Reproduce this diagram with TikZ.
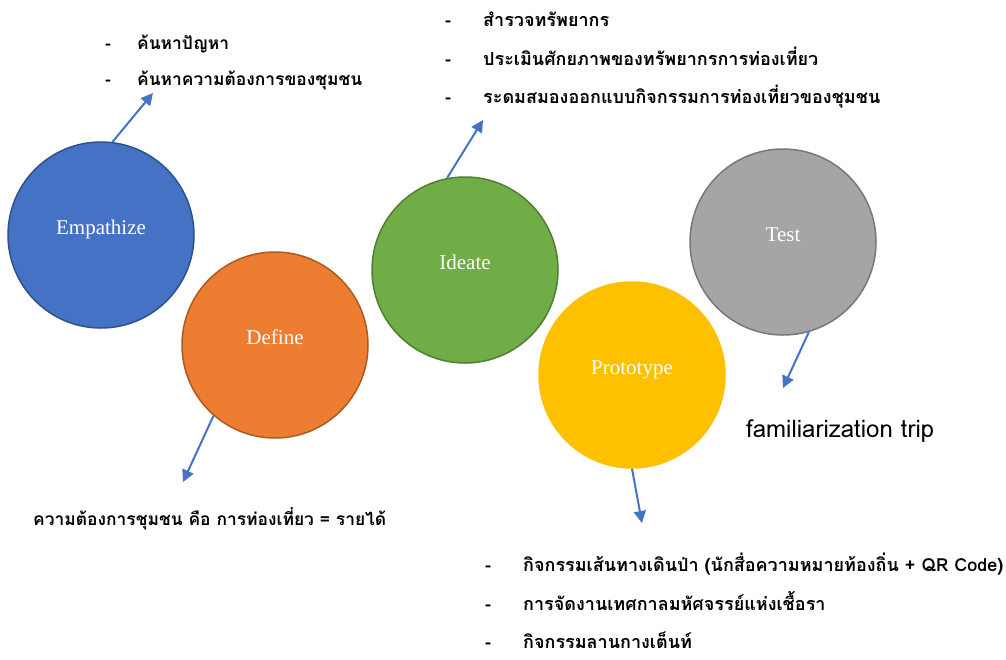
\documentclass[tikz,border=0pt]{standalone}
\usepackage{fontspec}
\setmainfont{Liberation Serif}
\newfontfamily\thaifont[Script=Thai]{Loma}
\usetikzlibrary{positioning,arrows.meta}
\definecolor{empfill}{HTML}{4472C4}
\definecolor{empedge}{HTML}{2F528F}
\definecolor{deffill}{HTML}{ED7D31}
\definecolor{defedge}{HTML}{AE5A21}
\definecolor{idefill}{HTML}{70AD47}
\definecolor{ideedge}{HTML}{507E32}
\definecolor{profill}{HTML}{FFC000}
\definecolor{tstfill}{HTML}{A5A5A5}
\definecolor{tstedge}{HTML}{787878}
\definecolor{arrowblue}{HTML}{4472C4}

\begin{document}
\begin{tikzpicture}[x=1pt,y=-1pt]

    \tikzstyle{phase}=[circle,draw,line width=1.5pt,minimum size=186pt,inner sep=0pt,text=white,text height=14pt,text depth=16pt,font=\fontsize{21}{24}\selectfont]
    \tikzstyle{note}=[anchor=base west,inner sep=0pt,font=\thaifont\bfseries\fontsize{18}{22}\selectfont]
    \tikzstyle{smallnote}=[note,font=\thaifont\bfseries\fontsize{17.4}{22}\selectfont]
    \tikzstyle{link}=[draw=arrowblue,line width=2pt,-{Triangle[length=12pt,width=12pt]}]

\useasboundingbox (0,0) rectangle (1006,659);

\node (Emp) [phase,fill=empfill,draw=empedge] at (101,235) {Empathize};
\node (Def) [phase,fill=deffill,draw=defedge] at (275,345) {Define};
\node (Ide) [phase,fill=idefill,draw=ideedge] at (465,270) {Ideate};
\node (Pro) [phase,fill=profill,draw=profill] at (632,375) {Prototype};
\node (Tst) [phase,fill=tstfill,draw=tstedge] at (783,242) {Test};

\node (EmpNote1) [smallnote] at (105,49) {\makebox[32pt][l]{-}ค้นหาปัญหา};
\node (EmpNote2) [smallnote] at (105,85) {\makebox[32pt][l]{-}ค้นหาความต้องการของชุมชน};

\node (DefNote) [smallnote] at (33,525) {ความต้องการชุมชน คือ การท่องเที่ยว = รายได้};

\node (IdeNote1) [note] at (445,26) {\makebox[38pt][l]{-}สำรวจทรัพยากร};
\node (IdeNote2) [note] at (445,65) {\makebox[38pt][l]{-}ประเมินศักยภาพของทรัพยากรการท่องเที่ยว};
\node (IdeNote3) [note] at (445,103) {\makebox[38pt][l]{-}ระดมสมองออกแบบกิจกรรมการท่องเที่ยวของชุมชน};

\node (ProNote1) [note] at (485,571) {\makebox[38pt][l]{-}กิจกรรมเส้นทางเดินป่า (นักสื่อความหมายท้องถิ่น + QR Code)};
\node (ProNote2) [note] at (485,610) {\makebox[38pt][l]{-}การจัดงานเทศกาลมหัศจรรย์แห่งเชื้อรา};
\node (ProNote3) [note] at (485,648) {\makebox[38pt][l]{-}กิจกรรมลานกางเต็นท์};

\node (TstNote) [note,font=\thaifont\fontsize{24}{28}\selectfont] at (746,437) {familiarization trip};

\coordinate (EmpTip) at (153,93);
\coordinate (DefTip) at (183,482);
\coordinate (IdeTip) at (483,120);
\coordinate (ProTip) at (642,523);
\coordinate (TstTip) at (783,388);

\draw[link] (Emp.83) -- (EmpTip);
\draw[link] (Def.229) -- (DefTip);
\draw[link] (Ide.101) -- (IdeTip);
\draw[link] (Pro.270) -- (ProTip);
\draw[link] (Tst.286) -- (TstTip);

\end{tikzpicture}
\end{document}
